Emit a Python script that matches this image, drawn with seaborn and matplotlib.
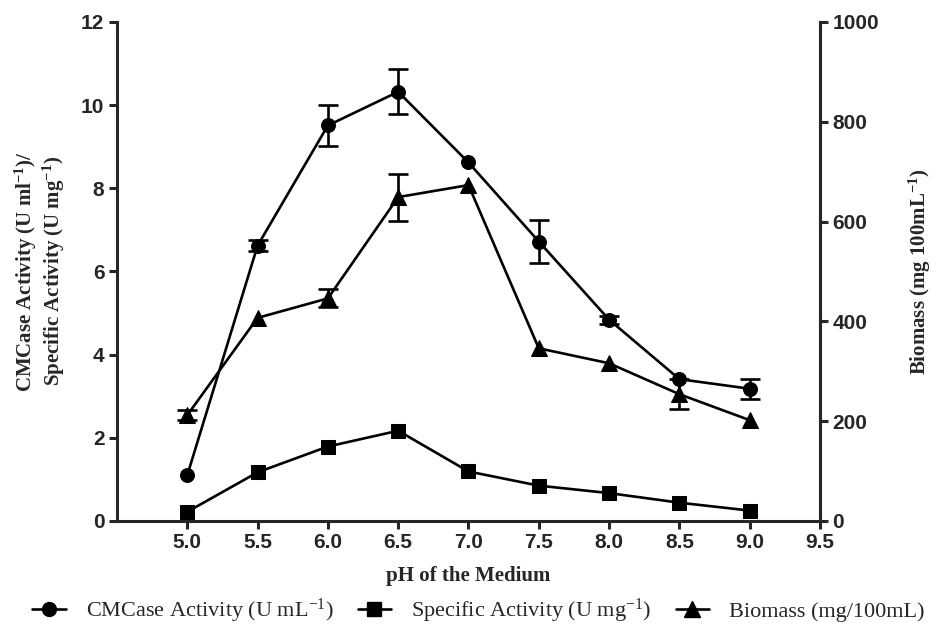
import numpy as np
import pandas as pd
import seaborn as sns
import matplotlib.pyplot as plt
from matplotlib.lines import Line2D

# values
ph = [5.0, 5.5, 6.0, 6.5, 7.0, 7.5, 8.0, 8.5, 9.0]
cmcase = [1.10, 6.62, 9.51, 10.32, 8.62, 6.72, 4.84, 3.41, 3.18]
cmcase_err = [0.0, 0.14, 0.49, 0.54, 0.0, 0.52, 0.10, 0.0, 0.24]
specific = [0.22, 1.17, 1.79, 2.17, 1.19, 0.85, 0.67, 0.44, 0.25]
biomass = [212, 407, 446, 649, 673, 346, 316, 254, 202]
biomass_err = [10, 0, 18, 47, 0, 0, 0, 30, 0]

sns.set_style("ticks")
plt.rcParams['mathtext.default'] = 'regular'
sans = ['Liberation Sans', 'DejaVu Sans']
serif = ['Liberation Serif', 'DejaVu Serif']

df = pd.DataFrame({'pH': ph, 'CMCase': cmcase, 'Specific': specific, 'Biomass': biomass})

fig = plt.figure(figsize=(9.38, 6.39), dpi=100)
ax = fig.add_axes([0.1247, 0.1847, 0.7495, 0.781])
ax2 = ax.twinx()

lw = 1.9
sns.lineplot(data=df, x='pH', y='CMCase', ax=ax, color='black', marker='o',
             markersize=10, linewidth=lw, markeredgecolor='black')
sns.lineplot(data=df, x='pH', y='Specific', ax=ax, color='black', marker='s',
             markersize=10, linewidth=lw, markeredgecolor='black')
sns.lineplot(data=df, x='pH', y='Biomass', ax=ax2, color='black', marker='^',
             markersize=11, linewidth=lw, markeredgecolor='black')

# only draw error bars where there is a visible error
def draw_err(a, x, y, e):
    x, y, e = np.array(x), np.array(y), np.array(e)
    m = e > 0
    a.errorbar(x[m], y[m], yerr=e[m], fmt='none', ecolor='black',
               elinewidth=lw, capsize=7, capthick=lw)

draw_err(ax, ph, cmcase, cmcase_err)
draw_err(ax2, ph, biomass, biomass_err)

ax.set_xlim(4.5, 9.5)
ax.set_ylim(0, 12)
ax2.set_ylim(0, 1000)
ax.set_xticks([5.0, 5.5, 6.0, 6.5, 7.0, 7.5, 8.0, 8.5, 9.0, 9.5])
ax.set_xticklabels(['5.0', '5.5', '6.0', '6.5', '7.0', '7.5', '8.0', '8.5', '9.0', '9.5'])
ax.set_yticks(range(0, 13, 2))
ax2.set_yticks(range(0, 1001, 200))

for a in (ax, ax2):
    a.spines['top'].set_visible(False)
    for s in a.spines.values():
        s.set_linewidth(2.2)
    a.tick_params(width=2.2, length=6, labelsize=15, pad=3)
    for t in a.get_xticklabels() + a.get_yticklabels():
        t.set_fontfamily(sans)
        t.set_fontweight('bold')
ax2.spines['left'].set_visible(False)
ax2.spines['bottom'].set_visible(False)

ax.set_xlabel('pH of the Medium', fontsize=15, fontweight='bold', family=serif, labelpad=10)
ax.set_ylabel('CMCase Activity (U ml$^{-1}$)/\nSpecific Activity (U mg$^{-1}$)',
              fontsize=15, fontweight='bold', family=serif, labelpad=10, linespacing=1.1)
ax2.set_ylabel('Biomass (mg 100mL$^{-1}$)', fontsize=15, fontweight='bold',
               family=serif, labelpad=20)

handles = [
    Line2D([], [], color='black', marker='o', markersize=10, linewidth=lw),
    Line2D([], [], color='black', marker='s', markersize=10, linewidth=lw),
    Line2D([], [], color='black', marker='^', markersize=11, linewidth=lw),
]
labels = ['CMCase Activity (U mL$^{-1}$)', 'Specific Activity (U mg$^{-1}$)',
          'Biomass (mg/100mL)']
fig.legend(handles, labels, loc='lower center', bbox_to_anchor=(0.51, -0.01), ncol=3,
           frameon=False, prop={'family': serif, 'size': 16}, handlelength=1.5,
           handletextpad=0.9, columnspacing=1.1)

fig.savefig('out.png', dpi=100)
